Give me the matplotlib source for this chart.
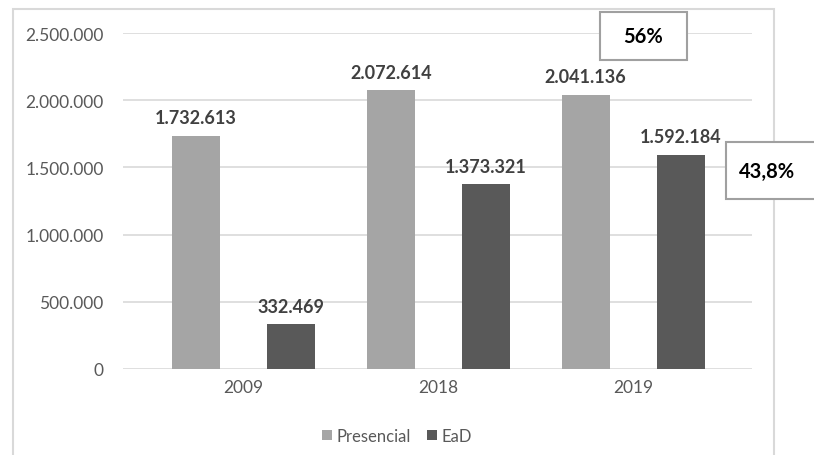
import matplotlib.pyplot as plt
import numpy as np
from matplotlib.patches import Rectangle

# ================== DATA ==================
anos = ["2009", "2018", "2019"]
presencial = [1732613, 2072614, 2041136]
ead = [332469, 1373321, 1592184]
yticks = [0, 500000, 1000000, 1500000, 2000000, 2500000]
pct_presencial = "56%"
pct_ead = "43,8%"

COR_PRES = "#a5a5a5"
COR_EAD = "#595959"
COR_TXT = "#595959"
COR_GRID = "#d9d9d9"


def fmt(v):
    return f"{v:,}".replace(",", ".")


plt.rcParams["font.family"] = ["Lato", "DejaVu Sans"]

W, H = 814, 456
fig = plt.figure(figsize=(W / 100, H / 100), dpi=100)
ax = fig.add_axes([123 / W, 1 - 370 / H, (752 - 123) / W, (370 - 34) / H])

x = np.arange(len(anos))
bw = 0.246
off = 0.244
ax.bar(x - off, presencial, bw, color=COR_PRES, label="Presencial", zorder=3)
ax.bar(x + off, ead, bw, color=COR_EAD, label="EaD", zorder=3)

for xs, vals in [(x - off, presencial), (x + off, ead)]:
    for xi, v in zip(xs, vals):
        ax.annotate(fmt(v), (xi, v), xytext=(0, 7), textcoords="offset points",
                    ha="center", va="bottom", fontsize=13, fontweight="bold",
                    color="#404040")

ax.set_ylim(0, 2500000)
ax.set_xlim(-0.62, 2.61)
ax.set_yticks(yticks)
ax.set_yticklabels([fmt(v) for v in yticks])
ax.set_xticks(x)
ax.set_xticklabels(anos)
ax.tick_params(length=0, labelsize=12.5, colors=COR_TXT)
ax.tick_params(axis="y", pad=14)
ax.tick_params(axis="x", pad=7)
ax.grid(axis="y", color=COR_GRID, linewidth=1.2, zorder=0)
for s in ax.spines.values():
    s.set_visible(False)

leg = fig.legend(loc="center", bbox_to_anchor=(397 / W, 1 - 437 / H), ncol=2,
                 frameon=False, fontsize=12, handlelength=0.6, handleheight=0.6,
                 handletextpad=0.25, columnspacing=1.0)
for t in leg.get_texts():
    t.set_color(COR_TXT)

# moldura externa
fig.patches.append(Rectangle((13 / W, -0.01), (774 - 13) / W, 1 - 10 / H + 0.01,
                             transform=fig.transFigure, fill=False,
                             edgecolor=COR_GRID, linewidth=1.5))

# caixas de percentual
for (x0, y0, x1, y1, tx, txt) in [(600, 13, 687, 61, 643, pct_presencial),
                                  (726, 143, 816, 200, 767, pct_ead)]:
    fig.patches.append(Rectangle((x0 / W, 1 - y1 / H), (x1 - x0) / W, (y1 - y0) / H,
                                 transform=fig.transFigure, facecolor="white",
                                 edgecolor="#a0a0a0", linewidth=1.5, zorder=5))
    fig.text(tx / W, 1 - (y0 + y1) / 2 / H, txt, ha="center", va="center",
             fontsize=14.5, fontweight="bold", color="black", zorder=6)

fig.savefig("out.png", dpi=100)
